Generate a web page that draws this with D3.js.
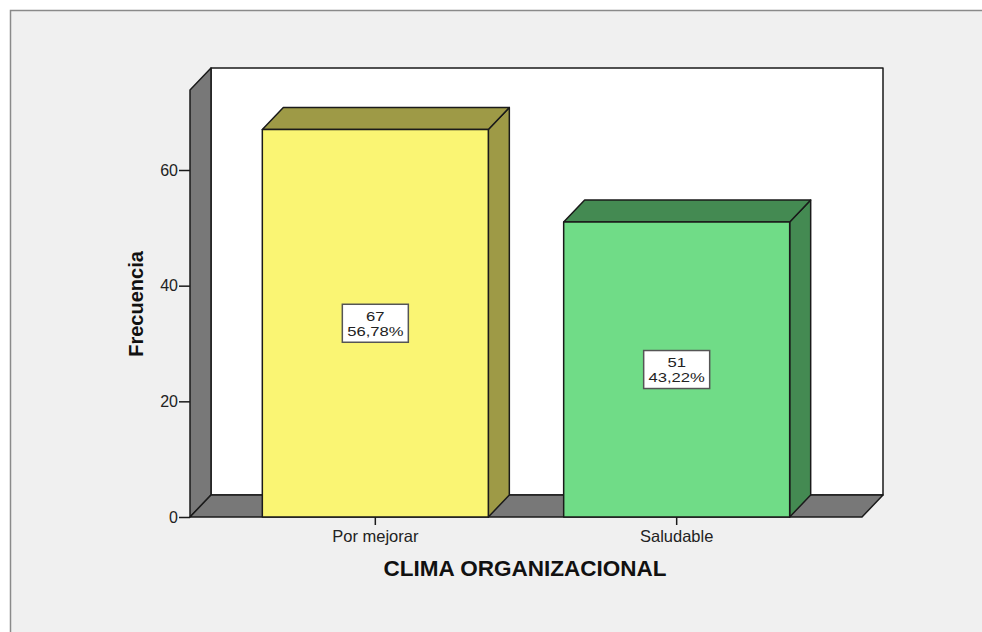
<!DOCTYPE html>
<html>
<head>
<meta charset="utf-8">
<script src="https://cdn.jsdelivr.net/npm/d3@7"></script>
<style>
  body { margin: 0; background: #fff; }
  svg { display: block; font-family: "Liberation Sans", Arial, sans-serif; }
</style>
</head>
<body>
<script>
const categories = ["Por mejorar", "Saludable"]
const counts = [67, 51]
const percents = ["56,78%", "43,22%"]
const yTicks = [0, 20, 40, 60]
const frontColors = ["#faf573", "#70dc87"]
const sideColors = ["#9e9a46", "#448a52"]

const width = 982
const height = 632

// plot front plane and depth offset of the 3d box
const plot = {left: 190, right: 862, bottom: 517}
const depth = {dx: 21, dy: -22}

const svg = d3.select("body")
  .append("svg")
  .attr("width", width)
  .attr("height", height)

// background panel with frame
svg.append("rect")
  .attr("width", width)
  .attr("height", height)
  .attr("fill", "#ffffff")
svg.append("rect")
  .attr("x", 10.5)
  .attr("y", 10.5)
  .attr("width", width)
  .attr("height", height)
  .attr("fill", "#f0f0f0")
  .attr("stroke", "#8a8a8a")
  .attr("stroke-width", 1.5)

const y = d3.scaleLinear()
  .domain([0, 60])
  .range([plot.bottom, 170])

const yMax = y.invert(90)

const x = d3.scaleBand()
  .domain(categories)
  .range([plot.left, plot.right])
  .paddingInner(0.25)
  .paddingOuter(0.24)

const line = d3.line()
const stroke = "#1a1a1a"

function poly(pts, fill) {
  svg.append("path")
    .attr("d", line(pts) + "Z")
    .attr("fill", fill)
    .attr("stroke", stroke)
    .attr("stroke-width", 1.5)
    .attr("stroke-linejoin", "round")
}

const wallTop = y(yMax)
const { dx, dy } = depth

// back wall
poly([[plot.left + dx, wallTop + dy], [plot.right + dx, wallTop + dy],
      [plot.right + dx, plot.bottom + dy], [plot.left + dx, plot.bottom + dy]], "#ffffff")
// left wall
poly([[plot.left, wallTop], [plot.left + dx, wallTop + dy],
      [plot.left + dx, plot.bottom + dy], [plot.left, plot.bottom]], "#787878")
// floor
poly([[plot.left, plot.bottom], [plot.left + dx, plot.bottom + dy],
      [plot.right + dx, plot.bottom + dy], [plot.right, plot.bottom]], "#787878")

// bars
categories.forEach((c, i) => {
  const x0 = x(c)
  const x1 = x0 + x.bandwidth()
  const yt = y(counts[i])
  const yb = y(0)
  // side
  poly([[x1, yt], [x1 + dx, yt + dy], [x1 + dx, yb + dy], [x1, yb]], sideColors[i])
  // top
  poly([[x0, yt], [x0 + dx, yt + dy], [x1 + dx, yt + dy], [x1, yt]], sideColors[i])
  // front
  poly([[x0, yt], [x1, yt], [x1, yb], [x0, yb]], frontColors[i])

  // value label
  const cx = x0 + x.bandwidth() / 2
  const cy = (yt + yb) / 2
  const g = svg.append("g").attr("transform", `translate(${cx},${cy})`)
  g.append("rect")
    .attr("x", -33)
    .attr("y", -19)
    .attr("width", 66)
    .attr("height", 38)
    .attr("fill", "#ffffff")
    .attr("stroke", "#555")
    .attr("stroke-width", 1.5)
  const t = g.append("g").attr("transform", "scale(1.28,1)")
  t.append("text")
    .attr("text-anchor", "middle")
    .attr("y", -2.5)
    .attr("font-size", 13)
    .attr("fill", "#222")
    .text(counts[i])
  t.append("text")
    .attr("text-anchor", "middle")
    .attr("y", 12.5)
    .attr("font-size", 13)
    .attr("fill", "#222")
    .text(percents[i])
})

// y axis
const yAxis = d3.axisLeft(y)
  .tickValues(yTicks)
  .tickSize(11)
  .tickPadding(1)

svg.append("g")
  .attr("transform", `translate(${plot.left},0)`)
  .call(yAxis)
  .call(g => g.select(".domain").remove())
  .call(g => g.selectAll("line").attr("stroke", stroke).attr("stroke-width", 1.5))
  .call(g => g.selectAll("text")
    .attr("font-size", 16)
    .attr("font-family", "Liberation Sans, Arial, sans-serif")
    .attr("fill", "#222"))

// x axis
const xAxis = d3.axisBottom(x)
  .tickSize(8)
  .tickPadding(5)

svg.append("g")
  .attr("transform", `translate(0,${plot.bottom})`)
  .call(xAxis)
  .call(g => g.select(".domain").remove())
  .call(g => g.selectAll("line").attr("stroke", stroke).attr("stroke-width", 1.5))
  .call(g => g.selectAll("text")
    .attr("font-size", 16.5)
    .attr("font-family", "Liberation Sans, Arial, sans-serif")
    .attr("fill", "#222"))

// titles
svg.append("text")
  .attr("transform", `translate(143,304) rotate(-90)`)
  .attr("text-anchor", "middle")
  .attr("font-size", 20)
  .attr("font-weight", "bold")
  .attr("fill", "#111")
  .text("Frecuencia")

svg.append("text")
  .attr("x", 525)
  .attr("y", 576)
  .attr("text-anchor", "middle")
  .attr("font-size", 22.5)
  .attr("font-weight", "bold")
  .attr("fill", "#111")
  .text("CLIMA ORGANIZACIONAL")
</script>
</body>
</html>
